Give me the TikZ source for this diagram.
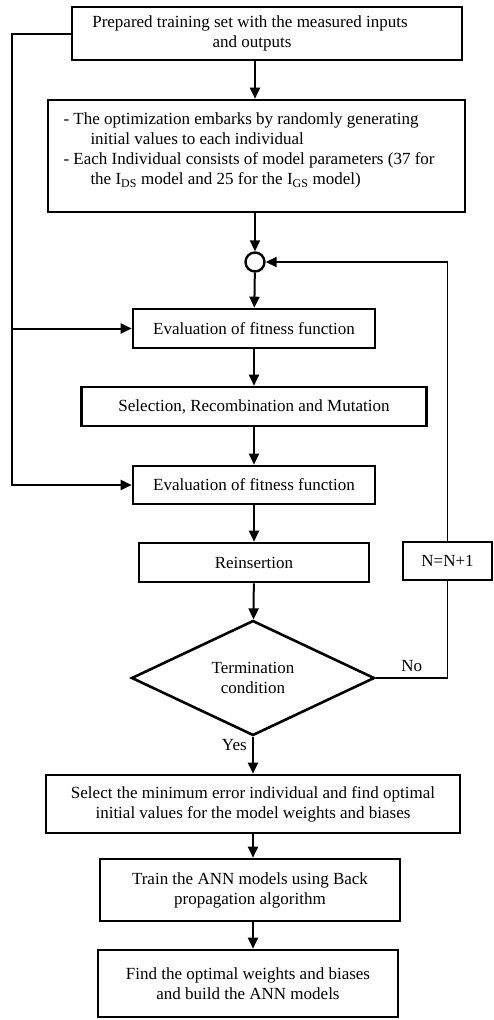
\documentclass[tikz,border=0pt]{standalone}
\usepackage{fontspec}
\setmainfont{Liberation Serif}
\usetikzlibrary{arrows.meta,shapes.geometric}

\begin{document}
\begin{tikzpicture}[x=1pt,y=1pt,
  every node/.style={font=\fontsize{17}{20}\selectfont},
  box/.style={draw, line width=2.6pt, align=center, inner sep=0pt},
  arr/.style={-{Triangle[length=11pt,width=10pt]}, line width=2pt},
  link/.style={line width=1.8pt}
]
  \useasboundingbox (0,0) rectangle (493,-1020);

  \node[box, minimum width=390, minimum height=53] (prep) at (267,-33.5)
    {Prepared training set with the measured inputs\hspace*{34pt}\\and outputs\hspace*{30pt}};
  \node[box, minimum width=417, minimum height=112] (init) at (256.5,-156)
    {\parbox[c][86pt][t]{386pt}{\raggedright
      - The optimization embarks by randomly generating\\
      \hspace*{27pt}initial values to each individual\\
      - Each Individual consists of model parameters (37 for\\
      \hspace*{27pt}the I\textsubscript{DS} model and 25 for the I\textsubscript{GS} model)}};
  \node[draw, circle, line width=2.4pt, minimum size=19, inner sep=0pt] (join) at (255,-262) {};
  \node[box, minimum width=242, minimum height=39] (eval1) at (254,-328.5) {Evaluation of fitness function};
  \node[box, minimum width=345, minimum height=39] (sel) at (254,-406.5) {Selection, Recombination and Mutation};
  \node[box, minimum width=242, minimum height=38] (eval2) at (254,-485) {Evaluation of fitness function};
  \node[box, minimum width=230, minimum height=39] (reins) at (254,-562.5) {Reinsertion};
  \node[box, diamond, aspect=2.1, minimum width=243, minimum height=115] (cond) at (253,-678)
    {Termination\\condition};
  \node[box, line width=2pt, minimum width=89, minimum height=38] (count) at (447.5,-561) {N=N+1};
  \node[box, minimum width=414, minimum height=58] (pick) at (253,-804)
    {Select the minimum error individual and find optimal\\initial values for the model weights and biases};
  \node[box, minimum width=300, minimum height=62] (train) at (250,-890)
    {Train the ANN models using Back\\propagation algorithm};
  \node[box, minimum width=300, minimum height=67] (final) at (248,-983.5)
    {Find the optimal weights and biases\\and build the ANN models};

  \coordinate (rail) at (12,-485);

  \draw[arr] (join |- prep.south) -- (join |- init.north);
  \draw[arr] (join |- init.south) -- (join.north);
  \draw[arr] (join) -- (eval1);
  \draw[arr] (eval1) -- (sel);
  \draw[arr] (sel) -- (eval2);
  \draw[arr] (eval2) -- (reins);
  \draw[arr] (reins) -- (cond);
  \draw[arr] (cond.south) -- node[left, pos=0.22, xshift=-2pt]{Yes} (cond.south |- pick.north);
  \draw[arr] (pick.south -| cond) -- (train.north -| cond);
  \draw[arr] (train.south -| cond) -- (final.north -| cond);

  % feedback loop
  \draw[link] (cond.east) -- node[above, yshift=2pt]{No} (cond.east -| count) -- (count);
  \draw[arr, line width=1.6pt] (count) |- (join);

  % training data to both evaluations
  \draw[arr] (prep.west) -| (rail) -- (eval2.west);
  \draw[arr] (rail |- eval1.west) -- (eval1.west);
\end{tikzpicture}
\end{document}
